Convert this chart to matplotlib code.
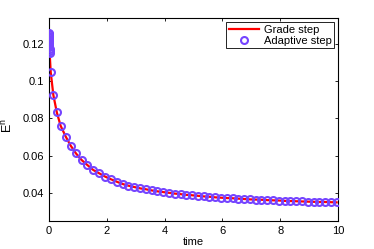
import numpy as np
import matplotlib
matplotlib.use("Agg")
import matplotlib.pyplot as plt
from matplotlib.ticker import FuncFormatter

# cluster of tiny adaptive steps right at t=0
t_start = [0.0, 0.002, 0.004, 0.006, 0.008, 0.010, 0.012, 0.014, 0.016, 0.018, 0.020, 0.022]
e_start = [0.1257, 0.1249, 0.1241, 0.1233, 0.1224, 0.1215, 0.1205, 0.1195, 0.1184, 0.1173, 0.1162, 0.1152]

# the rest of the run
t_main = [0.06, 0.15, 0.27, 0.40, 0.58, 0.75, 0.93, 1.13, 1.33, 1.53, 1.74, 1.95,
          2.15, 2.35, 2.55, 2.75, 2.95, 3.15, 3.35, 3.55, 3.75, 3.95, 4.15, 4.35,
          4.55, 4.75, 4.95, 5.15, 5.35, 5.55, 5.75, 5.95, 6.15, 6.35, 6.55, 6.75,
          6.95, 7.15, 7.35, 7.55, 7.75, 7.95, 8.15, 8.35, 8.55, 8.75, 8.95, 9.15,
          9.35, 9.55, 9.75, 9.95]
e_main = [0.1047, 0.0926, 0.0833, 0.0762, 0.0703, 0.0655, 0.0614, 0.0578, 0.0551, 0.0525, 0.0507, 0.0489,
          0.0475, 0.0462, 0.0450, 0.0441, 0.0434, 0.0427, 0.0422, 0.0416, 0.0411, 0.0407, 0.0403, 0.0399,
          0.0396, 0.0392, 0.0390, 0.0387, 0.0384, 0.0382, 0.0379, 0.0377, 0.0375, 0.0374, 0.0372, 0.0370,
          0.0368, 0.0367, 0.0366, 0.0364, 0.0363, 0.0362, 0.0360, 0.0359, 0.0358, 0.0357, 0.0356, 0.0355,
          0.0354, 0.0354, 0.0353, 0.0352]

t_all = t_start + t_main
e_all = e_start + e_main

plt.rcParams['font.family'] = ['Liberation Sans', 'DejaVu Sans']
plt.rcParams['font.size'] = 8

fig = plt.figure(figsize=(3.74, 2.49), dpi=100)
ax = fig.add_axes([0.131, 0.112, 0.773, 0.816])

ax.plot(t_start[-1:] + t_main, e_start[-1:] + e_main, color='red', lw=1.6, label='Grade step', zorder=2)
ax.plot(t_all, e_all, ls='none', marker='o', ms=5, mfc='none', mec='#7544ff',
        mew=1.5, label='Adaptive step', zorder=3)

ax.set_xlim(0, 10)
ax.set_ylim(0.0252, 0.1337)
ax.set_xticks([0, 2, 4, 6, 8, 10])
ax.set_yticks([0.04, 0.06, 0.08, 0.1, 0.12])
ax.yaxis.set_major_formatter(FuncFormatter(lambda v, p: '%g' % v))
ax.tick_params(direction='in', top=True, right=True, length=2.5, width=0.6, pad=3.5)
for s in ax.spines.values():
    s.set_linewidth(0.8)

ax.set_xlabel('time', labelpad=1)
ax.set_ylabel('E$^\\mathregular{n}$', fontsize=9)
ax.yaxis.set_label_coords(-0.118, 0.47)

leg = ax.legend(loc='upper right', fancybox=False, framealpha=1, edgecolor='black',
                borderpad=0.25, labelspacing=0.1, handlelength=2.7, handletextpad=0.4,
                borderaxespad=0.35, fontsize=8)
leg.get_frame().set_linewidth(0.6)

fig.savefig('out.png', dpi=100)
